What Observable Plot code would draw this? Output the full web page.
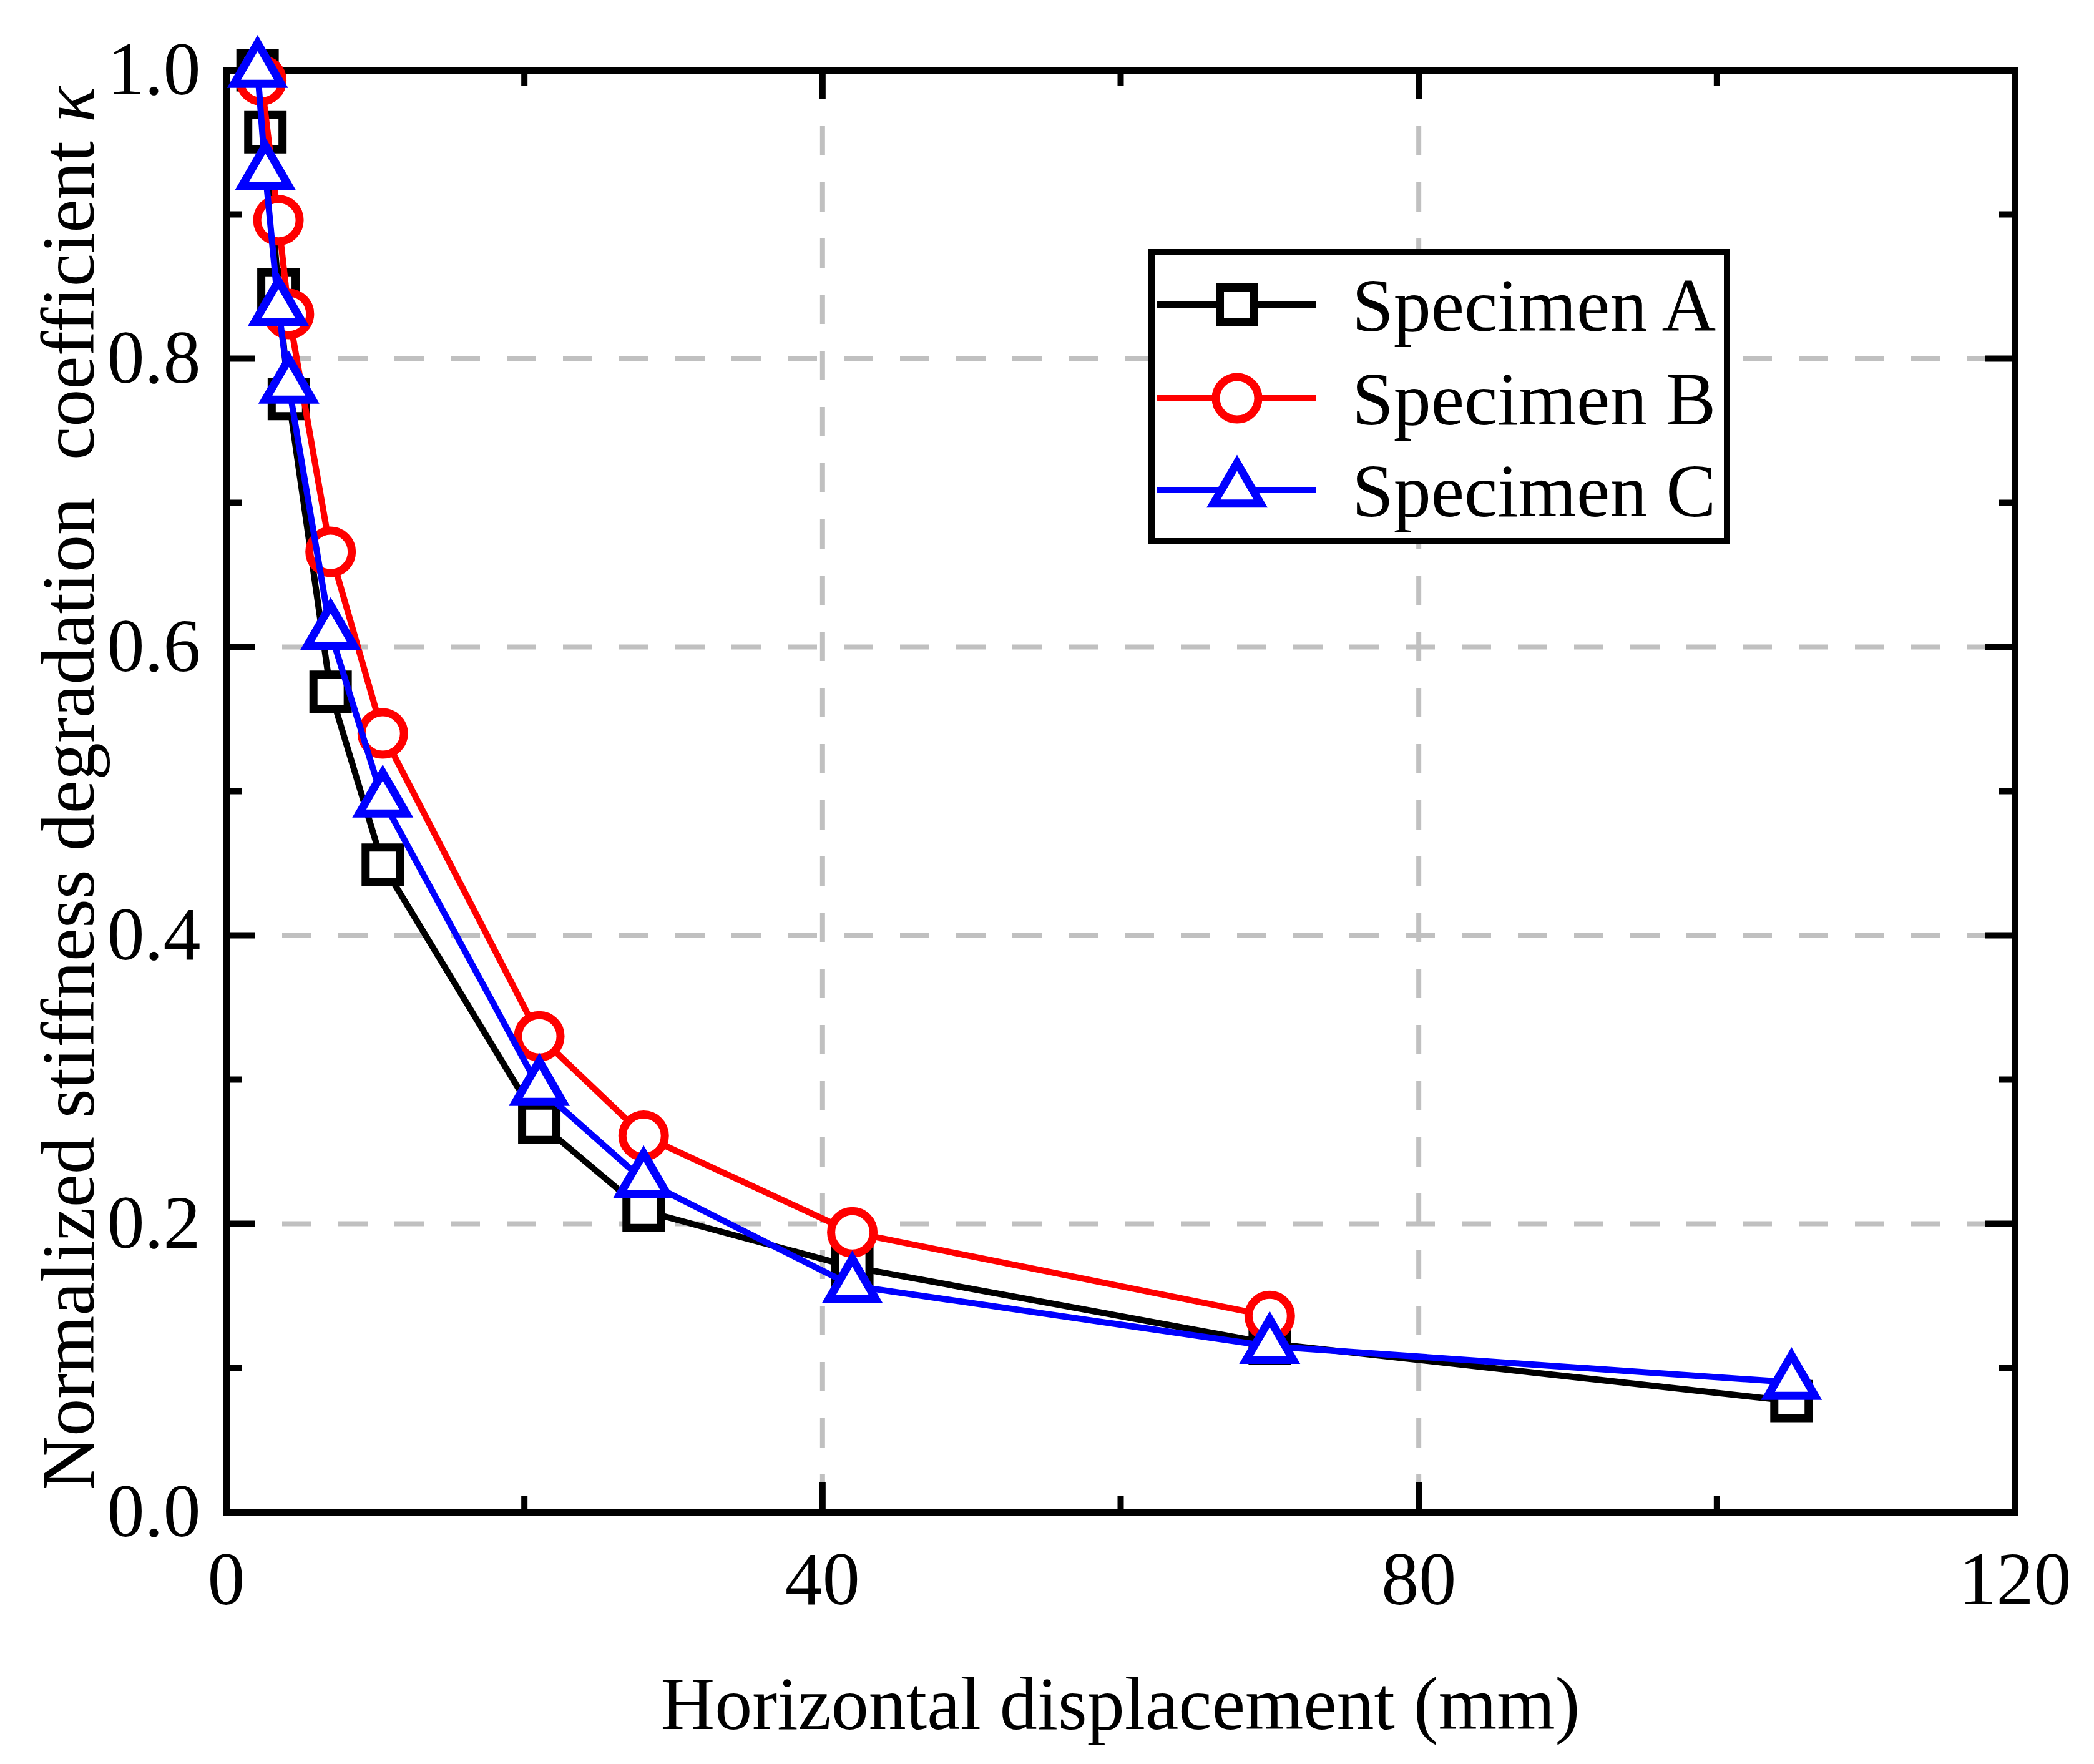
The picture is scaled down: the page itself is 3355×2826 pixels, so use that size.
<!DOCTYPE html>
<html>
<head>
<meta charset="utf-8">
<script src="https://cdn.jsdelivr.net/npm/d3@7"></script>
<script src="https://cdn.jsdelivr.net/npm/@observablehq/plot@0.6"></script>
<style>
  body { margin: 0; background: #fff; }
  #chart svg { display: block; }
</style>
</head>
<body>
<div id="chart"></div>
<script>
// horizontal displacement levels (mm) and stiffness coefficient per specimen
const dispAC = [2.1, 2.625, 3.5, 4.2, 7, 10.5, 21, 28, 42, 70, 105];
const kappaA = [1.0, 0.957, 0.848, 0.772, 0.569, 0.449, 0.270, 0.209, 0.170, 0.117, 0.077];
const kappaC = [1.0, 0.929, 0.835, 0.781, 0.610, 0.494, 0.294, 0.230, 0.157, 0.115, 0.090];
const dispB = [2.35, 3.5, 4.2, 7, 10.5, 21, 28, 42, 70];
const kappaB = [0.993, 0.896, 0.831, 0.666, 0.540, 0.330, 0.261, 0.194, 0.136];

const seriesNames = ["Specimen A", "Specimen B", "Specimen C"];
const xMajor = [0, 40, 80, 120];
const xMinor = [20, 60, 100];
const yMajor = [0, 0.2, 0.4, 0.6, 0.8, 1.0];
const yMinor = [0.1, 0.3, 0.5, 0.7, 0.9];

const dataA = dispAC.map((d, i) => ({d, k: kappaA[i]}));
const dataB = dispB.map((d, i) => ({d, k: kappaB[i]}));
const dataC = dispAC.map((d, i) => ({d, k: kappaC[i]}));

const W = 3355, H = 2826;
const mL = 362, mR = 127, mT = 112, mB = 404;
const innerW = W - mL - mR, innerH = H - mT - mB;
const font = "'Liberation Serif', 'Times New Roman', serif";
const major = 47, minor = 26;

// colour, symbol and size per series
const styles = [
  {color: "#000000", symbol: "square", d3sym: d3.symbolSquare, r: 31},
  {color: "#ff0000", symbol: "circle", d3sym: d3.symbolCircle, r: 34},
  {color: "#0000ff", symbol: "triangle", d3sym: d3.symbolTriangle, r: 28}
];

const seriesMarks = [dataA, dataB, dataC].flatMap((data, i) => [
  Plot.line(data, {x: "d", y: "k", stroke: styles[i].color, strokeWidth: 10}),
  Plot.dot(data, {x: "d", y: "k", symbol: styles[i].symbol, r: styles[i].r,
    stroke: styles[i].color, fill: "white", strokeWidth: 13})
]);

const tk = {stroke: "black", strokeWidth: 10};
const grid = {stroke: "#c0c0c0", strokeOpacity: 1, strokeWidth: 8, strokeDasharray: "47,43"};

let chart = Plot.plot({
  width: W,
  height: H,
  marginLeft: mL,
  marginRight: mR,
  marginTop: mT,
  marginBottom: mB,
  x: {domain: [0, 120]},
  y: {domain: [0, 1]},
  style: {fontFamily: font, fontSize: "120px", color: "black", background: "white"},
  marks: [
    Plot.gridX(xMajor, grid),
    Plot.gridY(yMajor, grid),
    Plot.frame({stroke: "black", strokeWidth: 11}),
    // inward ticks on all four sides
    Plot.tickX(xMajor, {...tk, insetTop: innerH - major}),
    Plot.tickX(xMinor, {...tk, insetTop: innerH - minor}),
    Plot.tickX(xMajor, {...tk, insetBottom: innerH - major}),
    Plot.tickX(xMinor, {...tk, insetBottom: innerH - minor}),
    Plot.tickY(yMajor, {...tk, insetRight: innerW - major}),
    Plot.tickY(yMinor, {...tk, insetRight: innerW - minor}),
    Plot.tickY(yMajor, {...tk, insetLeft: innerW - major}),
    Plot.tickY(yMinor, {...tk, insetLeft: innerW - minor}),
    Plot.axisX(xMajor, {tickSize: 0, tickPadding: 62, label: null, fontSize: 120, fill: "black"}),
    Plot.axisY(yMajor, {tickSize: 0, tickPadding: 41, label: null, fontSize: 120, fill: "black",
      tickFormat: d3.format(".1f")}),
    ...seriesMarks
  ]
});

const svg = d3.select(chart);

// axis titles
svg.append("text")
  .attr("x", mL + innerW / 2).attr("y", 2770)
  .attr("text-anchor", "middle")
  .attr("font-family", font).attr("font-size", 120).attr("fill", "black")
  .text("Horizontal displacement (mm)");

const yt = svg.append("text")
  .attr("transform", `translate(150,${mT + innerH / 2 - 4}) rotate(-90)`)
  .attr("text-anchor", "middle")
  .attr("font-family", font).attr("font-size", 120).attr("fill", "black")
  .style("white-space", "pre");
yt.append("tspan").text("Normalized stiffness degradation  coefficient ");
yt.append("tspan").attr("font-style", "italic").text("κ");

// legend box
const lg = svg.append("g");
lg.append("rect")
  .attr("x", 1845).attr("y", 404).attr("width", 922).attr("height", 463)
  .attr("fill", "white").attr("stroke", "black").attr("stroke-width", 10);
const rowsY = [488, 638, 785];
seriesNames.forEach((name, i) => {
  const s = styles[i], y = rowsY[i];
  lg.append("line").attr("x1", 1853).attr("x2", 2108).attr("y1", y).attr("y2", y)
    .attr("stroke", s.color).attr("stroke-width", 10);
  lg.append("path")
    .attr("d", d3.symbol(s.d3sym, s.r * s.r * Math.PI)())
    .attr("transform", `translate(1982,${y})`)
    .attr("fill", "white").attr("stroke", s.color).attr("stroke-width", 13);
  lg.append("text").attr("x", 2166).attr("y", y).attr("dy", "0.35em")
    .attr("text-anchor", "start")
    .attr("font-family", font).attr("font-size", 120).attr("fill", "black")
    .text(name);
});

d3.select('#chart').append(() => chart);
</script>
</body>
</html>
